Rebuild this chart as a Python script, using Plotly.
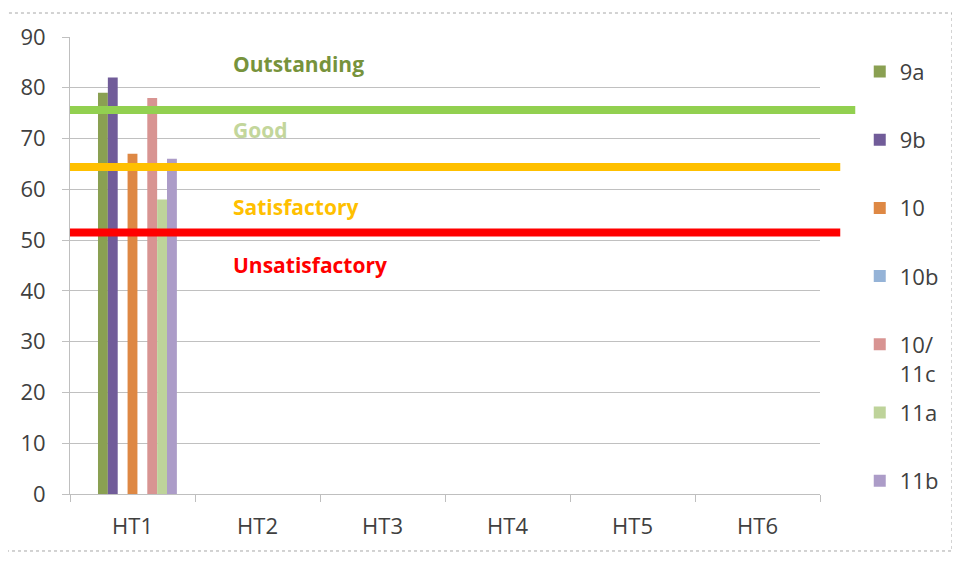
import plotly.graph_objects as go

categories = ["HT1", "HT2", "HT3", "HT4", "HT5", "HT6"]

# series (None = no bar); blank names are empty slots in the Excel group
series_names = ["", "9a", "9b", " ", "10", "10b", "10/<br>11c", "11a", "11b"]
series_values = [
    [0, None, None, None, None, None],
    [79, None, None, None, None, None],
    [82, None, None, None, None, None],
    [0, None, None, None, None, None],
    [67, None, None, None, None, None],
    [0, None, None, None, None, None],
    [78, None, None, None, None, None],
    [58, None, None, None, None, None],
    [66, None, None, None, None, None],
]
series_colors = ["#FFFFFF", "#8AA052", "#715C99", "#FFFFFF", "#DE8844",
                 "#95B3D7", "#D89492", "#BED39A", "#AC9CC8"]
series_in_legend = [False, True, True, False, True, True, True, True, True]

# grade boundaries
band_labels = ["Outstanding", "Good", "Satisfactory", "Unsatisfactory"]
band_label_y = [84.7, 71.7, 56.5, 45.1]
band_label_colors = ["#77933C", "#C3D69B", "#FFC000", "#FF0000"]
threshold_values = [75.6, 64.4, 51.5]
threshold_colors = ["#92D050", "#FFC000", "#FF0000"]
threshold_ends = [1.047, 1.027, 1.027]

FONT = "Open Sans"
fig = go.Figure()
last = len(series_names) - 1
for i, (name, vals, col, leg) in enumerate(zip(series_names, series_values, series_colors, series_in_legend)):
    label = name if ("<br>" in name or i == last) else name + "<br>\u00a0"
    fig.add_trace(go.Bar(
        x=categories, y=vals, name=label, marker=dict(color=col, line=dict(width=0)),
        showlegend=leg, legendgroup="g%d" % i,
    ))

shapes = []
for v, c, e in zip(threshold_values, threshold_colors, threshold_ends):
    shapes.append(dict(type="line", xref="paper", yref="y", x0=0, x1=e, y0=v, y1=v,
                       line=dict(color=c, width=8), layer="above"))
shapes.append(dict(type="rect", xref="paper", yref="paper", x0=-0.0853, x1=1.176,
                   y0=-0.1247, y1=1.0525, line=dict(color="#A6A6A6", width=1, dash="dot"),
                   layer="below"))

annotations = []
for t, y, c in zip(band_labels, band_label_y, band_label_colors):
    annotations.append(dict(text="<b>%s</b>" % t, xref="paper", yref="y", x=0.215, y=y,
                            xanchor="left", yanchor="middle", showarrow=False,
                            font=dict(family=FONT, size=21, color=c)))

fig.update_layout(
    width=960, height=563,
    margin=dict(l=62, r=148, t=29, b=77),
    paper_bgcolor="white", plot_bgcolor="white",
    barmode="group", bargap=0.29, bargroupgap=0,
    font=dict(family=FONT, size=22, color="#404040"),
    shapes=shapes, annotations=annotations,
    legend=dict(x=1.053, y=0.97, xanchor="left", yanchor="top", valign="top",
                tracegroupgap=8, font=dict(family=FONT, size=22, color="#404040"),
                bgcolor="rgba(0,0,0,0)"),
    xaxis=dict(showgrid=False, showline=True, linecolor="#BFBFBF", linewidth=1,
               ticks="outside", tickson="boundaries", ticklen=7, tickcolor="#BFBFBF",
               ticklabelstandoff=13, tickfont=dict(size=22, color="#404040")),
    yaxis=dict(range=[0, 90], dtick=10, showgrid=True, gridcolor="#C0C0C0", gridwidth=1,
               showline=True, linecolor="#BFBFBF", linewidth=1, ticks="outside",
               ticklen=7, tickcolor="#C0C0C0", zeroline=False, ticklabelstandoff=12,
               tickfont=dict(size=22, color="#404040")),
)

fig.write_html("out.html")
